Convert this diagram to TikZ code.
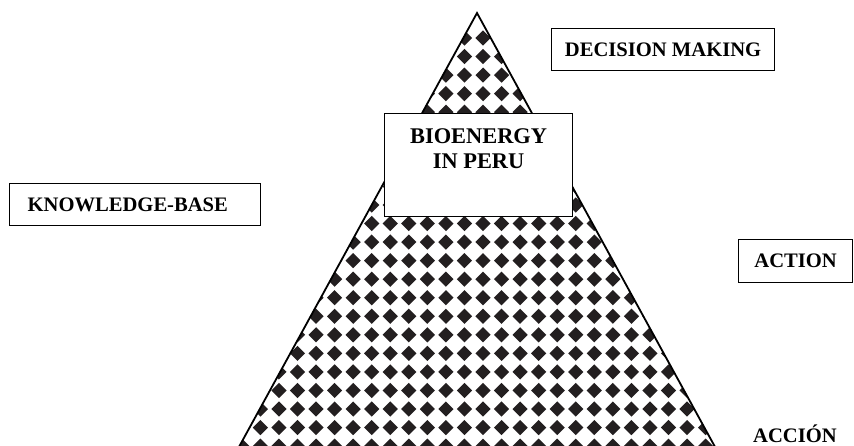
\documentclass[tikz,border=0pt]{standalone}
\usepackage{fontspec}
\setmainfont{Liberation Serif}
\definecolor{chk}{RGB}{35,31,32}
\tikzset{
  labelbox/.style={draw, line width=1.2pt, fill=white, inner sep=0pt,
    font=\fontsize{20.6}{24}\selectfont\bfseries},
  tag/.style={inner sep=0pt, font=\fontsize{20.6}{24}\selectfont\bfseries},
}
\begin{document}
\begin{tikzpicture}[x=1pt,y=1pt,yscale=-1,xscale=1]
\useasboundingbox (0,0) rectangle (854,445);
\clip (0,0) rectangle (854,445);

%Shape: Triangle
\coordinate (apex) at (477,13);
\coordinate (bl) at (231.8,460);
\coordinate (br) at (722.2,460);

%Checker fill
\begin{scope}
\clip (apex) -- (bl) -- (br) -- cycle;
\foreach \i in {0,...,23} {
  \foreach \j in {-14,...,14} {
    \fill[chk] (483+18.55*\j,38+18.55*\i) ++(0,-7.6) -- ++(7.6,7.6) -- ++(-7.6,7.6) -- ++(-7.6,-7.6) -- cycle;
  }
}
\end{scope}
\draw[line width=1.8pt] (bl) -- (apex) -- (br);

%Shape: Rectangle
\node (bio) [labelbox, anchor=north west, minimum width=188, minimum height=103] at (384,113) {};
% Text Node
\node (biotext) [tag, anchor=north, align=center, font=\fontsize{22.4}{25}\selectfont\bfseries]
  at ([yshift=15pt]bio.north) {BIOENERGY\\IN PERU};
% Text Node
\node (decision) [labelbox, anchor=north west, minimum width=223, minimum height=42] at (551,28) {DECISION MAKING};
% Text Node
\node (knowledge) [labelbox, anchor=north west, minimum height=42, text width=215, inner xsep=18, align=left] at (9,183) {KNOWLEDGE-BASE};
% Text Node
\node (action) [labelbox, anchor=north west, minimum width=114, minimum height=43] at (738,239) {ACTION};
% Text Node
\node (accion) [tag, anchor=base] at (795,442) {ACCIÓN};

\end{tikzpicture}
\end{document}
